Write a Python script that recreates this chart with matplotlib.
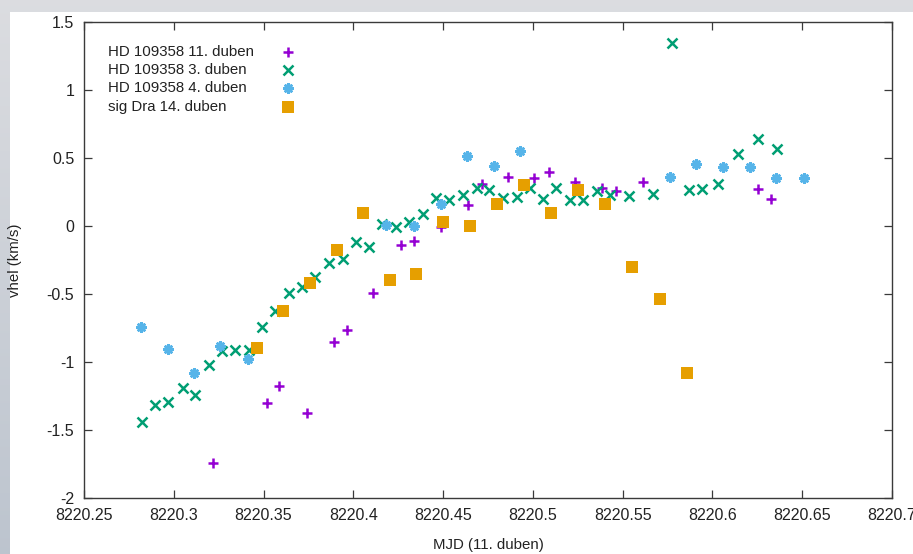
import numpy as np
import matplotlib
matplotlib.use("Agg")
import matplotlib.pyplot as plt
from matplotlib.patches import Rectangle

# Heliocentric radial velocity measurements (MJD - 50000, km/s)
hd_11_mjd = [8220.3217, 8220.3517, 8220.3588, 8220.3740, 8220.3892, 8220.3966,
             8220.4111, 8220.4264, 8220.4339, 8220.4488, 8220.4637, 8220.4715,
             8220.4860, 8220.5008, 8220.5088, 8220.5233, 8220.5386, 8220.5463,
             8220.5611, 8220.6252, 8220.6324]
hd_11_v = [-1.745, -1.300, -1.173, -1.374, -0.851, -0.765,
           -0.495, -0.143, -0.107, -0.008, 0.157, 0.306,
           0.360, 0.353, 0.397, 0.326, 0.282, 0.255,
           0.326, 0.269, 0.196]

hd_3_mjd = [8220.2821, 8220.2897, 8220.2968, 8220.3050, 8220.3120, 8220.3194,
            8220.3269, 8220.3343, 8220.3417, 8220.3491, 8220.3565, 8220.3643,
            8220.3716, 8220.3786, 8220.3864, 8220.3941, 8220.4015, 8220.4087,
            8220.4158, 8220.4236, 8220.4312, 8220.4386, 8220.4458, 8220.4533,
            8220.4612, 8220.4687, 8220.4757, 8220.4835, 8220.4910, 8220.4984,
            8220.5058, 8220.5127, 8220.5207, 8220.5281, 8220.5355, 8220.5429,
            8220.5537, 8220.5667, 8220.5777, 8220.5869, 8220.5942, 8220.6032,
            8220.6142, 8220.6252, 8220.6361]
hd_3_v = [-1.438, -1.317, -1.293, -1.190, -1.239, -1.020,
          -0.917, -0.915, -0.915, -0.745, -0.625, -0.495,
          -0.445, -0.377, -0.271, -0.241, -0.116, -0.158,
          0.016, -0.006, 0.031, 0.087, 0.208, 0.188,
          0.225, 0.282, 0.262, 0.208, 0.213, 0.282,
          0.196, 0.282, 0.188, 0.188, 0.255, 0.225,
          0.220, 0.237, 1.348, 0.262, 0.269, 0.308,
          0.527, 0.640, 0.569]

hd_4_mjd = [8220.2816, 8220.2968, 8220.3113, 8220.3260, 8220.3413, 8220.4182,
            8220.4338, 8220.4487, 8220.4631, 8220.4783, 8220.4928, 8220.5763,
            8220.5908, 8220.6057, 8220.6209, 8220.6356, 8220.6508]
hd_4_v = [-0.745, -0.907, -1.081, -0.880, -0.981, 0.009,
          -0.003, 0.164, 0.515, 0.441, 0.549, 0.360,
          0.456, 0.434, 0.434, 0.353, 0.353]

sig_mjd = [8220.3462, 8220.3606, 8220.3759, 8220.3907, 8220.4052, 8220.4204,
           8220.4349, 8220.4501, 8220.4650, 8220.4802, 8220.4952, 8220.5099,
           8220.5253, 8220.5400, 8220.5552, 8220.5708, 8220.5856]
sig_v = [-0.900, -0.625, -0.420, -0.180, 0.092, -0.396,
         -0.350, 0.028, -0.003, 0.164, 0.304, 0.095,
         0.262, 0.159, -0.303, -0.536, -1.084]

series_labels = ["HD 109358 11. duben", "HD 109358 3. duben",
                 "HD 109358 4. duben", "sig Dra 14. duben"]

xtick_values = [8220.25, 8220.30, 8220.35, 8220.40, 8220.45,
                8220.50, 8220.55, 8220.60, 8220.65, 8220.70]
xtick_labels = ["8220.25", "8220.3", "8220.35", "8220.4", "8220.45",
                "8220.5", "8220.55", "8220.6", "8220.65", "8220.7"]
ytick_values = [-2.0, -1.5, -1.0, -0.5, 0.0, 0.5, 1.0, 1.5]
ytick_labels = ["-2", "-1.5", "-1", "-0.5", "0", "0.5", "1", "1.5"]

plt.rcParams["font.family"] = ["Liberation Sans", "DejaVu Sans"]

W, H = 913, 554
fig = plt.figure(figsize=(W / 100, H / 100), dpi=100)

# soft slide backdrop with a white card behind the plot
bg = fig.add_axes([0, 0, 1, 1], zorder=-10)
bg.set_axis_off()
grad = np.linspace(0, 1, 256)[:, None]
bg_rgb = np.empty((256, 1, 3))
top_c = np.array([0.86, 0.865, 0.88])
bot_c = np.array([0.74, 0.77, 0.81])
for k in range(3):
    bg_rgb[:, :, k] = top_c[k] * (1 - grad) + bot_c[k] * grad
bg.imshow(bg_rgb, aspect="auto", extent=[0, 1, 0, 1])
bg.set_xlim(0, 1)
bg.set_ylim(0, 1)
bg.add_patch(Rectangle((10 / W, 0), 1, (H - 12) / H, facecolor="white",
                       edgecolor="none", transform=bg.transAxes))

ax = fig.add_axes([84 / W, (H - 498) / H, (892 - 84) / W, (498 - 22) / H])
ax.set_facecolor("white")

c_purple = "#9400d3"
c_green = "#009e73"
c_blue = "#56b4e9"
c_orange = "#e69f00"
asterisk = (8, 2, 0)

styles = [
    dict(marker="+", color=c_purple, ms=7, mew=1.8),
    dict(marker="x", color=c_green, ms=6.5, mew=1.8),
    dict(marker=asterisk, color=c_blue, ms=7.5, mew=1.8),
    dict(marker="s", color=c_orange, ms=8, mew=0),
]
datasets = [(hd_11_mjd, hd_11_v), (hd_3_mjd, hd_3_v),
            (hd_4_mjd, hd_4_v), (sig_mjd, sig_v)]

for (xs, ys), st in zip(datasets, styles):
    ax.plot(xs, ys, linestyle="none", marker=st["marker"], color=st["color"],
            markersize=st["ms"], markeredgewidth=st["mew"], clip_on=False)

ax.set_xlim(8220.25, 8220.70)
ax.set_ylim(-2.0, 1.5)
ax.set_xticks(xtick_values)
ax.set_xticklabels(xtick_labels)
ax.set_yticks(ytick_values)
ax.set_yticklabels(ytick_labels)

for sp in ax.spines.values():
    sp.set_color("#3a3a3a")
    sp.set_linewidth(1.0)
ax.tick_params(axis="both", which="major", direction="in", length=6,
               width=0.9, color="#3a3a3a", top=True, right=True,
               labelsize=11.5, labelcolor="#222222")
ax.tick_params(axis="x", pad=7)
ax.tick_params(axis="y", pad=7)

ax.set_xlabel("MJD (11. duben)", fontsize=10.8, color="#222222")
ax.xaxis.set_label_coords(0.5, -0.085)
ax.set_ylabel("vhel (km/s)", fontsize=10.8, color="#222222")
ax.yaxis.set_label_coords(-0.077, 0.5)

# key in the upper left, text first and sample marker to its right
key_rows = [0.9376, 0.8992, 0.8613, 0.8214]
for label, st, yk in zip(series_labels, styles, key_rows):
    ax.text(0.0297, yk, label, transform=ax.transAxes, ha="left",
            va="center", fontsize=10.8, color="#222222")
    ax.plot([0.2525], [yk], transform=ax.transAxes, linestyle="none",
            marker=st["marker"], color=st["color"], markersize=st["ms"],
            markeredgewidth=st["mew"], clip_on=False)

fig.savefig("out.png", dpi=100)
